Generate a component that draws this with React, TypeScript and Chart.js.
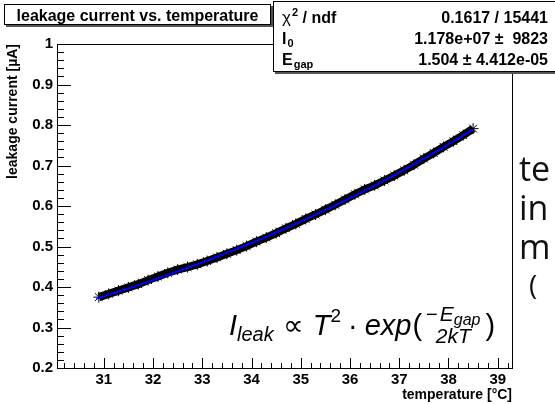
import React, { useEffect, useRef } from "react";
import { Chart, registerables } from "chart.js";

Chart.register(...registerables);

// ---- data ----
const temperatures = [
  30.9, 31.1, 31.3, 31.5, 31.7, 31.9, 32.1, 32.3, 32.5, 32.7, 32.9, 33.1, 33.3,
  33.5, 33.7, 33.9, 34.1, 34.3, 34.5, 34.7, 34.9, 35.1, 35.3, 35.5, 35.7, 35.9,
  36.1, 36.3, 36.5, 36.7, 36.9, 37.1, 37.3, 37.5, 37.7, 37.9, 38.1, 38.3, 38.5,
];
const leakageCurrent = [
  0.375, 0.383, 0.391, 0.399, 0.407, 0.417, 0.426, 0.435, 0.443, 0.449, 0.456,
  0.464, 0.473, 0.482, 0.491, 0.501, 0.512, 0.522, 0.533, 0.545, 0.556, 0.568,
  0.579, 0.591, 0.603, 0.616, 0.629, 0.641, 0.651, 0.663, 0.675, 0.688, 0.702,
  0.717, 0.731, 0.746, 0.76, 0.775, 0.791,
];
const fitTemperatures = [
  30.85, 31, 31.5, 32, 32.5, 33, 33.5, 34, 34.5, 35, 35.5, 36, 36.5, 37, 37.5,
  38, 38.5,
];
const fitCurrent = [
  0.3712, 0.3769, 0.3964, 0.4168, 0.4382, 0.4606, 0.4841, 0.5087, 0.5345,
  0.5615, 0.5897, 0.6193, 0.6503, 0.6827, 0.7167, 0.7522, 0.7893,
];

const titleText = "leakage current vs. temperature";
const xTitle = "temperature [°C]";
const yTitle = "leakage current [µA]";
const statsValues = ["0.1617 / 15441", "1.178e+07 \u00b1  9823", "1.504 \u00b1 4.412e-05"];
const slideLines = ["te", "in", "m"];
const slideSubLine = "(";

const X_MIN = 30.05;
const X_MAX = 39.29;
const Y_MIN = 0.2;
const Y_MAX = 1.0;
const X_MINOR = 0.2;
const Y_MINOR = 0.02;

const FONT = "'Liberation Sans', Arial, Helvetica, sans-serif";

const decorPlugin = {
  id: "rootDecor",
  afterDraw(chart: any) {
    const { ctx, chartArea: a } = chart;
    const xs = chart.scales.x;
    const ys = chart.scales.y;
    ctx.save();
    ctx.strokeStyle = "#000";
    ctx.lineWidth = 1;
    ctx.beginPath();
    // frame top and right
    ctx.moveTo(a.left, Math.round(a.top) + 0.5);
    ctx.lineTo(Math.round(a.right) + 0.5, Math.round(a.top) + 0.5);
    ctx.lineTo(Math.round(a.right) + 0.5, a.bottom);
    // x ticks (inside)
    for (let k = Math.ceil(X_MIN / X_MINOR); k * X_MINOR <= X_MAX + 1e-9; k++) {
      const v = k * X_MINOR;
      const px = Math.round(xs.getPixelForValue(v)) + 0.5;
      const major = Math.abs(v - Math.round(v)) < 1e-6;
      const len = major ? 10 : 5;
      ctx.moveTo(px, a.bottom);
      ctx.lineTo(px, a.bottom - len);
    }
    // y ticks (inside)
    for (let k = Math.round(Y_MIN / Y_MINOR); k * Y_MINOR <= Y_MAX + 1e-9; k++) {
      const v = k * Y_MINOR;
      const py = Math.round(ys.getPixelForValue(v)) + 0.5;
      const major = k % 5 === 0;
      const len = major ? 14 : 7;
      ctx.moveTo(a.left, py);
      ctx.lineTo(a.left + len, py);
    }
    ctx.stroke();

    // formula
    drawFormula(ctx, 229, 335);

    // title box
    ctx.fillStyle = "#555";
    ctx.fillRect(6, 6, 267, 21);
    ctx.fillStyle = "#fff";
    ctx.fillRect(4, 4, 267, 21);
    ctx.strokeStyle = "#000";
    ctx.strokeRect(4.5, 4.5, 266, 20);
    ctx.fillStyle = "#000";
    ctx.font = `bold 16px ${FONT}`;
    ctx.textAlign = "center";
    ctx.textBaseline = "alphabetic";
    ctx.fillText(titleText, 137.5, 20.5);

    // stats box
    ctx.fillStyle = "#555";
    ctx.fillRect(275, 0, 285, 74);
    ctx.fillStyle = "#fff";
    ctx.fillRect(273, 0, 285, 72);
    ctx.strokeRect(273.5, 1.5, 290, 70);
    ctx.fillStyle = "#000";
    const rows = [22.5, 43.5, 64.5];
    const lx = 282;
    ctx.textAlign = "left";
    ctx.font = `17px ${FONT}`;
    ctx.fillText("\u03c7", lx, rows[0]);
    let w = ctx.measureText("\u03c7").width;
    ctx.font = `bold 11px ${FONT}`;
    ctx.fillText("2", lx + w + 1, rows[0] - 7);
    const w2 = ctx.measureText("2").width;
    ctx.font = `bold 16px ${FONT}`;
    ctx.fillText(" / ndf", lx + w + w2 + 1, rows[0]);
    ctx.fillText("I", lx, rows[1]);
    w = ctx.measureText("I").width;
    ctx.font = `bold 11px ${FONT}`;
    ctx.fillText("0", lx + w + 1, rows[1] + 3);
    ctx.font = `bold 16px ${FONT}`;
    ctx.fillText("E", lx, rows[2]);
    w = ctx.measureText("E").width;
    ctx.font = `bold 11px ${FONT}`;
    ctx.fillText("gap", lx + w + 1, rows[2] + 3);
    ctx.font = `bold 16px ${FONT}`;
    ctx.textAlign = "right";
    statsValues.forEach((s, i) => ctx.fillText(s, 548, rows[i]));

    // slide text on the right (cropped)
    ctx.textAlign = "left";
    ctx.fillStyle = "#111";
    ctx.font = `34px 'Open Sans', 'Noto Sans', sans-serif`;
    slideLines.forEach((s, i) => ctx.fillText(s, 519, 181 + i * 39));
    ctx.font = `28px 'Open Sans', 'Noto Sans', sans-serif`;
    ctx.fillText(slideSubLine, 529, 295);
    ctx.restore();
  },
};

function drawFormula(ctx: CanvasRenderingContext2D, x0: number, base: number) {
  let cx = x0;
  const put = (t: string, size: number, style: string, dy = 0) => {
    ctx.font = `${style} ${size}px ${FONT}`;
    ctx.fillText(t, cx, base + dy);
    cx += ctx.measureText(t).width;
  };
  ctx.fillStyle = "#000";
  ctx.textAlign = "left";
  ctx.textBaseline = "alphabetic";
  put("I", 29, "italic");
  put("leak", 20, "italic", 6);
  cx += 9;
  put("\u221d", 29, "normal");
  cx += 9;
  put("T", 29, "italic");
  put("2", 19, "normal", -13);
  cx += 7;
  put("\u00b7", 29, "normal");
  cx += 7;
  put("exp", 29, "italic");
  cx += 1;
  put("(", 29, "normal");
  // fraction
  const fx = cx + 3;
  ctx.font = `20px ${FONT}`;
  const wM = ctx.measureText("\u2212").width + 2;
  ctx.font = `italic 21px ${FONT}`;
  const wE = ctx.measureText("E").width;
  ctx.font = `italic 16px ${FONT}`;
  const wG = ctx.measureText("gap").width;
  ctx.font = `italic 21px ${FONT}`;
  const wD = ctx.measureText("2kT").width;
  const wN = wM + wE + wG;
  const fw = Math.max(wN, wD) + 2;
  const nx = fx + (fw - wN) / 2;
  ctx.font = `20px ${FONT}`;
  ctx.fillText("\u2212", nx, base - 14);
  ctx.font = `italic 21px ${FONT}`;
  ctx.fillText("E", nx + wM, base - 14);
  ctx.font = `italic 16px ${FONT}`;
  ctx.fillText("gap", nx + wM + wE, base - 10);
  ctx.font = `italic 21px ${FONT}`;
  ctx.fillText("2kT", fx + (fw - wD) / 2, base + 8);
  cx = fx + fw + 4;
  put(")", 29, "normal");
}

export default function App() {
  const ref = useRef<HTMLCanvasElement | null>(null);
  useEffect(() => {
    if (!ref.current) return;
    const measured = temperatures.map((t, i) => ({ x: t, y: leakageCurrent[i] }));
    const fit = fitTemperatures.map((t, i) => ({ x: t, y: fitCurrent[i] }));
    const tickFont = { family: FONT, size: 15, weight: "bold" as const };
    const titleFont = { family: FONT, size: 14, weight: "bold" as const };
    const chart = new Chart(ref.current, {
      type: "scatter",
      data: {
        datasets: [
          {
            label: "fit",
            data: fit,
            showLine: true,
            borderColor: "#0000ff",
            borderWidth: 2,
            pointRadius: 0,
            tension: 0.3,
          },
          {
            label: "data",
            data: measured,
            showLine: true,
            borderColor: "#000",
            borderWidth: 8,
            pointStyle: "star",
            pointRadius: 5.5,
            pointBorderColor: "#000",
            pointBackgroundColor: "#000",
            pointBorderWidth: 1,
          },
        ],
      },
      options: {
        responsive: false,
        animation: false,
        events: [],
        layout: { padding: { top: 44, right: 43, left: 0, bottom: 0 } },
        plugins: {
          legend: { display: false },
          tooltip: { enabled: false },
          title: { display: false },
        },
        scales: {
          x: {
            type: "linear",
            min: X_MIN,
            max: X_MAX,
            afterFit: (s: any) => {
              s.height = 36;
            },
            grid: { drawOnChartArea: false, drawTicks: false },
            border: { display: true, color: "#000", width: 1 },
            ticks: {
              stepSize: 1,
              includeBounds: false,
              autoSkip: false,
              maxRotation: 0,
              padding: 3,
              color: "#000",
              font: tickFont,
              callback: (v: any) => String(Math.round(Number(v))),
            },
            title: {
              display: true,
              text: xTitle,
              align: "end",
              color: "#000",
              font: titleFont,
              padding: { top: 0, bottom: 0 },
            },
          },
          y: {
            type: "linear",
            min: Y_MIN,
            max: Y_MAX,
            afterFit: (s: any) => {
              s.width = 57;
            },
            grid: { drawOnChartArea: false, drawTicks: false },
            border: { display: true, color: "#000", width: 1 },
            ticks: {
              stepSize: 0.1,
              includeBounds: false,
              autoSkip: false,
              padding: 4,
              color: "#000",
              font: tickFont,
              callback: (v: any) => {
                const n = Number(v);
                return Math.abs(n - 1) < 1e-9 ? "1" : n.toFixed(1);
              },
            },
            title: {
              display: true,
              text: yTitle,
              align: "end",
              color: "#000",
              font: titleFont,
              padding: { top: 5, bottom: 0 },
            },
          },
        },
      },
      plugins: [decorPlugin],
    });
    return () => chart.destroy();
  }, []);
  return (
    <div style={{ position: "fixed", left: 0, top: 0, width: 555, height: 404, background: "#fff" }}>
      <canvas ref={ref} width={555} height={404} />
    </div>
  );
}
